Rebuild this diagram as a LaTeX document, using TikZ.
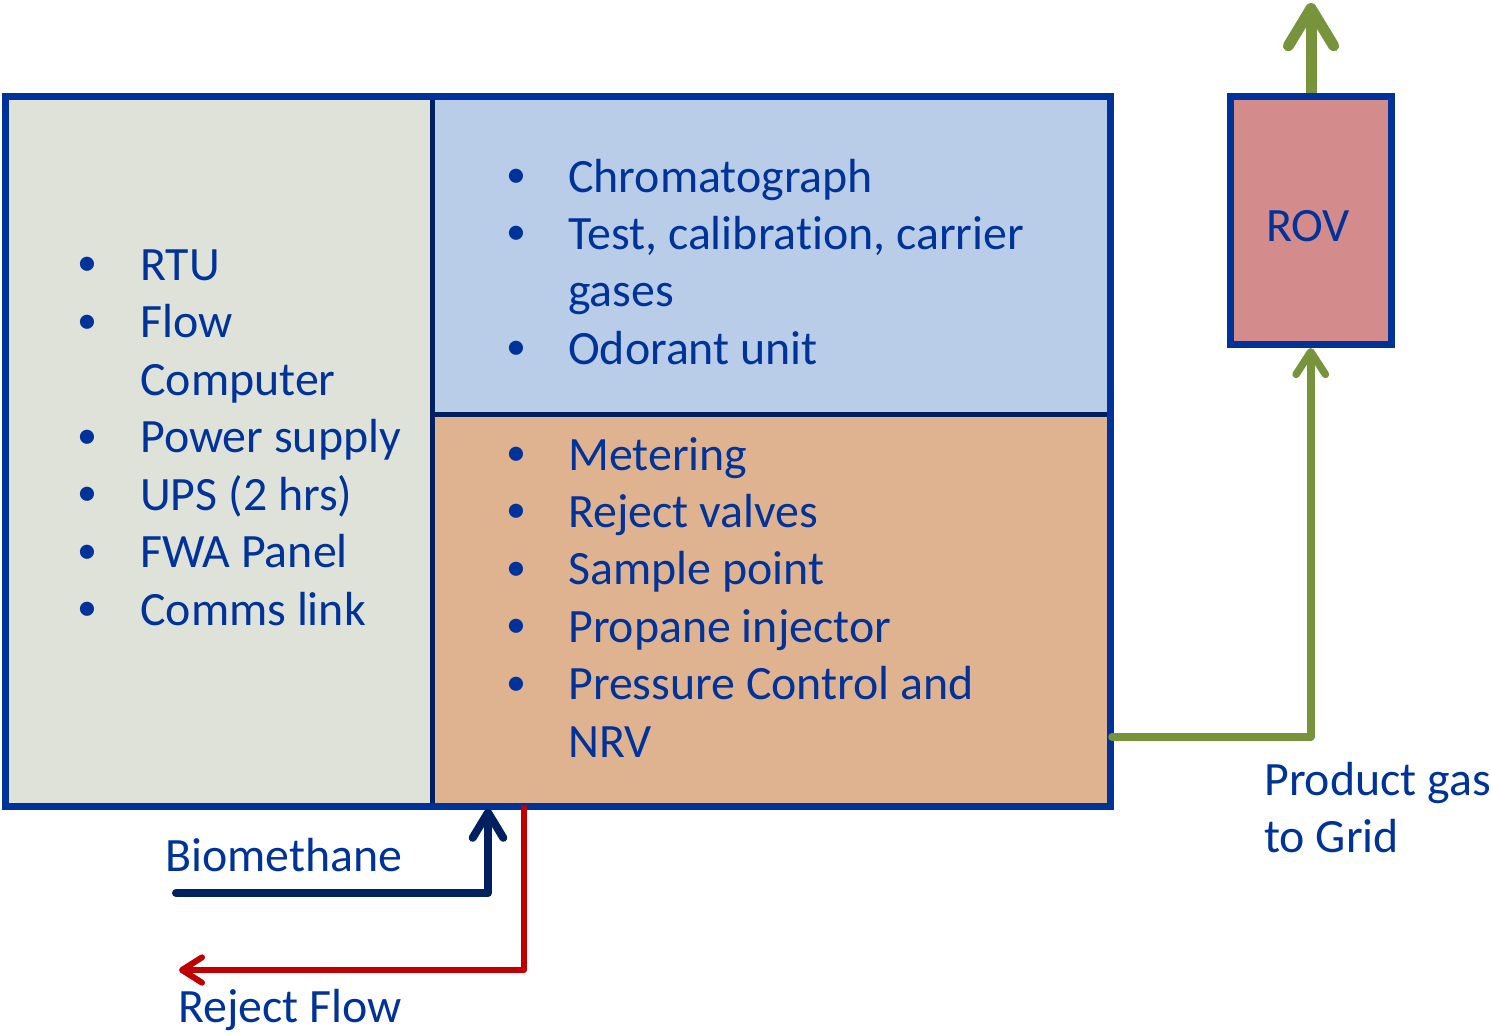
\documentclass[tikz,border=0pt]{standalone}
\usepackage{fontspec}
\setmainfont[Ligatures=CommonOff]{Carlito}
\usetikzlibrary{arrows.meta}
\definecolor{frameblue}{RGB}{0,51,153}
\definecolor{navy}{RGB}{0,32,96}
\definecolor{ctrlfill}{RGB}{223,226,216}
\definecolor{analfill}{RGB}{185,205,233}
\definecolor{meterfill}{RGB}{223,179,144}
\definecolor{rovfill}{RGB}{212,139,139}
\definecolor{gasgreen}{RGB}{119,147,60}
\definecolor{rejred}{RGB}{192,0,0}
\begin{document}
\begin{tikzpicture}[x=0.75pt,y=-0.75pt,
  panel/.style={draw=navy, line width=3.75pt, rectangle, inner sep=0pt, outer sep=0pt, anchor=north west},
  frame/.style={draw=frameblue, line width=5.25pt, rectangle, inner sep=0pt, outer sep=0pt, anchor=north west},
  item/.style={text=frameblue, font=\fontsize{35.9}{43}\selectfont, inner sep=0pt, anchor=base west},
  dot/.style={text=frameblue, font=\fontsize{30}{36}\selectfont, inner sep=0pt, anchor=base},
  gasline/.style={draw=gasgreen, line join=round, line cap=round},
]
\useasboundingbox (0,0) rectangle (1491,1033);

% cabinet sections
\node[panel, fill=ctrlfill, minimum width={427*0.75pt}, minimum height={709.5*0.75pt}] (ctrl) at (5.5,96.5) {};
\node[panel, fill=analfill, minimum width={678*0.75pt}, minimum height={318*0.75pt}] (anal) at (432.5,96.5) {};
\node[panel, fill=meterfill, minimum width={678*0.75pt}, minimum height={391.5*0.75pt}] (meter) at (432.5,414.5) {};
\node[frame, minimum width={1105*0.75pt}, minimum height={709.5*0.75pt}] (cabinet) at (5.5,96.5) {};

% remotely operated valve with its outlet to the grid
\coordinate (grid) at (1311,3);
\draw[gasline, line width=8.25pt, -{Straight Barb[length=28pt,width=34pt,round]}] (1311,97) -- (grid);
\node[frame, fill=rovfill, minimum width={161.5*0.75pt}, minimum height={247.5*0.75pt}] (rov) at (1230,96.5) {};
\node[item, anchor=base] (rovtxt) at (1308,241) {ROV};

% control section list
\foreach \t/\b [count=\i] in {RTU/1, Flow/1, Computer/0, Power supply/1, UPS (2 hrs)/1, FWA Panel/1, Comms link/1} {
  \node[item] (ctl\i) at (140,{280+(\i-1)*57.5}) {\t};
  \ifnum\b=1 \node[dot] (ctlb\i) at (87.5,{275.5+(\i-1)*57.5}) {•}; \fi
}
% analyser section list
\foreach \t/\b [count=\i] in {Chromatograph/1, {Test, calibration, carrier}/1, gases/0, Odorant unit/1} {
  \node[item] (an\i) at (568,{192+(\i-1)*57.4}) {\t};
  \ifnum\b=1 \node[dot] (anb\i) at (516,{187.5+(\i-1)*57.4}) {•}; \fi
}
% metering section list
\foreach \t/\b [count=\i] in {Metering/1, Reject valves/1, Sample point/1, Propane injector/1, Pressure Control and/1, NRV/0} {
  \node[item] (me\i) at (568,{470+(\i-1)*57.4}) {\t};
  \ifnum\b=1 \node[dot] (meb\i) at (516,{465.5+(\i-1)*57.4}) {•}; \fi
}

% product gas to the ROV
\coordinate (gasout) at (1112,737);
\draw[gasline, line width=5.6pt, shorten >=3pt, -{Straight Barb[length=17pt,width=22pt,round]}] (gasout) -| (rov.south);
\node[item] (prodtxt) at (1264,795) {Product gas};
\node[item] (gridtxt) at (1264,852) {to Grid};

% biomethane inlet
\coordinate (bioin) at (176,893);
\path (meter.south west) ++(55.5,2.5) coordinate (biotap);
\draw[draw=navy, line width=6pt, line join=round, line cap=round, -{Straight Barb[length=19pt,width=23pt,round]}] (bioin) -| (biotap);
\node[item] (biotxt) at (165,871) {Biomethane};

% reject flow outlet
\path (meter.south west) ++(91.5,-1) coordinate (rejtap);
\coordinate (rejout) at (179,970);
\draw[draw=rejred, line width=4.5pt, line join=round, -{Straight Barb[length=15pt,width=19pt,round]}] (rejtap) |- (rejout);
\node[item] (rejtxt) at (178,1022) {Reject Flow};
\end{tikzpicture}
\end{document}
